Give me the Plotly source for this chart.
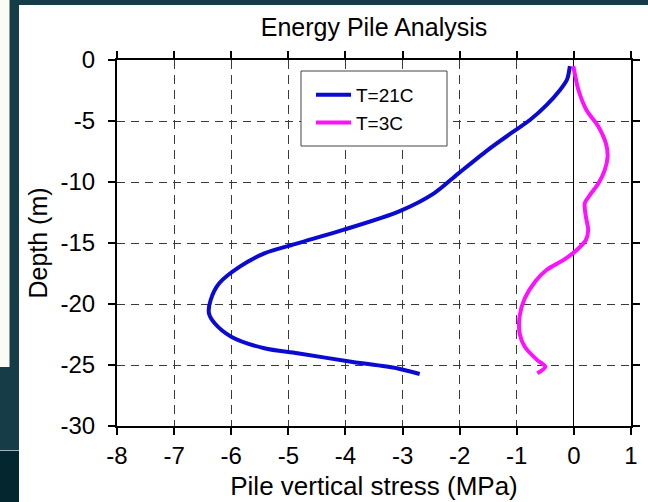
import plotly.graph_objects as go

# ---- data ----
depth_21 = [-0.5, -1.6, -2.5, -3.7, -4.92, -5.87, -7.38, -9.29, -10.93, -12.43, -13.93,
            -15.03, -15.85, -16.94, -18.3, -19.67, -20.77, -21.58, -22.68, -23.63,
            -24.04, -24.73, -25.27, -25.74]
stress_21 = [-0.07, -0.12, -0.25, -0.48, -0.77, -1.06, -1.51, -2.02, -2.45, -3.07, -4.04,
             -4.84, -5.42, -5.85, -6.21, -6.36, -6.39, -6.29, -6.0, -5.42,
             -4.84, -3.9, -3.10, -2.70]

depth_3 = [-0.5, -2.46, -4.1, -5.47, -6.83, -7.93, -9.02, -10.1, -11.07, -11.75, -12.84,
           -13.93, -14.75, -15.57, -16.39, -17.21, -18.17, -19.53, -21.0, -22.4, -23.5,
           -24.6, -25.14, -25.68]
stress_3 = [-0.01, 0.08, 0.22, 0.43, 0.56, 0.59, 0.54, 0.43, 0.28, 0.19, 0.21,
            0.25, 0.21, 0.05, -0.18, -0.48, -0.68, -0.86, -0.95, -0.95, -0.86,
            -0.64, -0.50, -0.64]

series_names = ["T=21C", "T=3C"]
x_ticks = [-8, -7, -6, -5, -4, -3, -2, -1, 0, 1]
x_tick_text = ["-8", "-7", "-6", "-5", "-4", "-3", "-2", "-1", "0", "1"]
y_ticks = [-30, -25, -20, -15, -10, -5, 0]
y_tick_text = ["-30", "-25", "-20", "-15", "-10", "-5", "0"]

FONT = "Liberation Sans, Arial, sans-serif"
W, H = 648, 502
ML, MR, MT, MB = 117, 17, 60, 76
PW, PH = W - ML - MR, H - MT - MB


def px(x):
    return (x - ML) / PW


def py(y):
    return (H - MB - y) / PH


fig = go.Figure()
fig.add_trace(go.Scatter(x=stress_21, y=depth_21, mode="lines", name=series_names[0],
                         line=dict(color="#0a0ad2", width=4, shape="spline", smoothing=0.8)))
fig.add_trace(go.Scatter(x=stress_3, y=depth_3, mode="lines", name=series_names[1],
                         line=dict(color="#ff10ff", width=4, shape="spline", smoothing=0.8)))

shapes = [
    # white slide panel
    dict(type="rect", xref="paper", yref="paper", x0=px(19), x1=px(W + 5), y0=py(H + 5), y1=py(5),
         fillcolor="white", line=dict(width=0), layer="below"),
    # left white strip
    dict(type="rect", xref="paper", yref="paper", x0=px(-5), x1=px(9.5), y0=py(367), y1=py(-5),
         fillcolor="#fbfbf6", line=dict(width=0), layer="below"),
    # bottom-left darker band
    dict(type="rect", xref="paper", yref="paper", x0=px(-5), x1=px(19), y0=py(H + 5), y1=py(451),
         fillcolor="#04272f", line=dict(width=0), layer="below"),
    dict(type="line", xref="paper", yref="paper", x0=px(0), x1=px(19), y0=py(450.5), y1=py(450.5),
         line=dict(color="#9fb3b8", width=1), layer="below"),
    # legend box
    dict(type="rect", xref="paper", yref="paper", x0=px(301), x1=px(447), y0=py(146), y1=py(71),
         fillcolor="white", line=dict(color="#444444", width=1), layer="above"),
]

fig.update_layout(
    width=W, height=H,
    margin=dict(l=ML, r=MR, t=MT, b=MB, autoexpand=False),
    paper_bgcolor="#163c48",
    plot_bgcolor="white",
    font=dict(family=FONT, color="black", size=24),
    title=dict(text="Energy Pile Analysis", x=0.5, xref="paper", xanchor="center",
               y=1 - 27 / H, yanchor="middle", font=dict(size=25, family=FONT, color="black")),
    shapes=shapes,
    showlegend=True,
    legend=dict(x=px(311), y=py(76), xanchor="left", yanchor="top",
                bgcolor="rgba(0,0,0,0)", borderwidth=0, font=dict(size=19, family=FONT),
                itemwidth=35, tracegroupgap=0),
)

axis_common = dict(
    showline=True, linecolor="black", linewidth=2, mirror="ticks",
    ticks="outside", ticklen=7, tickwidth=2, tickcolor="black",
    showgrid=True, gridcolor="#3a3a3a", gridwidth=1,
    tickfont=dict(size=24, family=FONT, color="black"),
)

fig.update_xaxes(range=[-8, 1], tickvals=x_ticks, ticktext=x_tick_text,
                 zeroline=True, zerolinecolor="black", zerolinewidth=1,
                 griddash="9px,6px",
                 title=dict(text="Pile vertical stress (MPa)", font=dict(size=26, family=FONT), standoff=9),
                 **axis_common)
fig.update_yaxes(range=[-30, 0], tickvals=y_ticks, ticktext=y_tick_text,
                 zeroline=False, griddash="8px,6px", ticklabelstandoff=8,
                 title=dict(text="Depth (m)", font=dict(size=25, family=FONT), standoff=6),
                 **axis_common)

fig.write_html("out.html")
